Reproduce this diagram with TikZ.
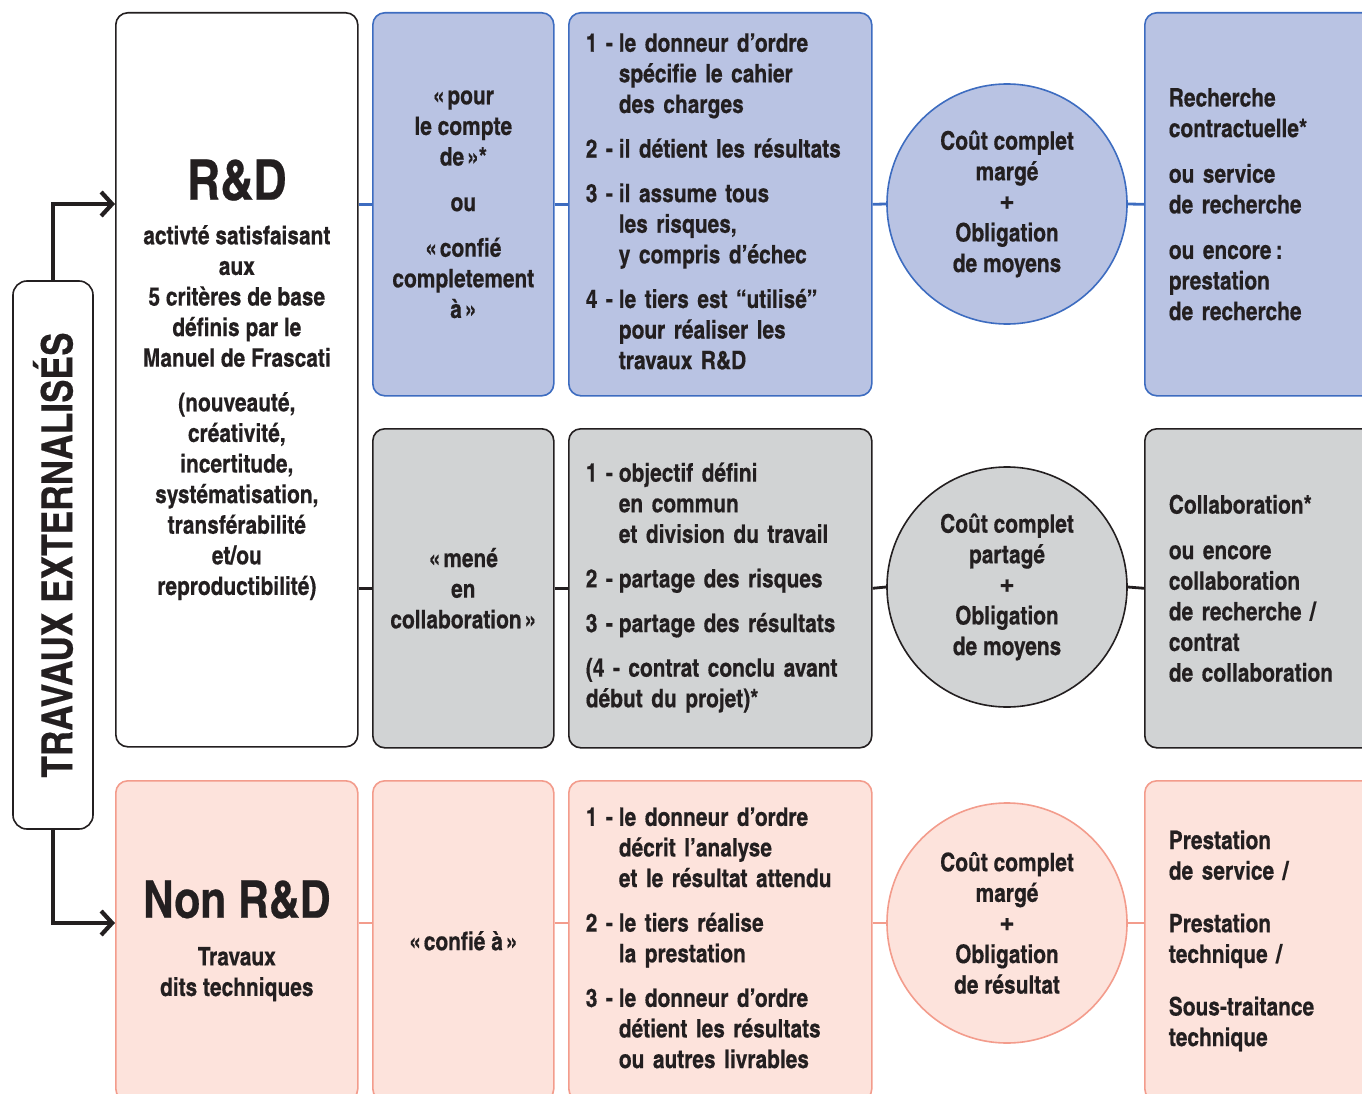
\documentclass[tikz,border=0pt]{standalone}
\usepackage{fontspec}
\setmainfont{TeX Gyre Heros Cn}[BoldFeatures={FakeBold=0.4}]
\usetikzlibrary{arrows.meta}
\definecolor{ink}{HTML}{231F20}
\definecolor{rdfill}{HTML}{B9C3E3}
\definecolor{rdline}{HTML}{3D6CC0}
\definecolor{cofill}{HTML}{D1D3D4}
\definecolor{nrdfill}{HTML}{FDE3DC}
\definecolor{nrdline}{HTML}{F39C8C}
\newcommand{\plusline}{{\fontsize{33}{30.6}\selectfont +}}
\newcommand{\og}{«\kern3pt}
\newcommand{\fg}{\kern3pt»}
\tikzset{
  txt/.style={font=\fontsize{25.5}{30.6}\selectfont\bfseries, text=ink},
  box/.style={txt, rectangle, rounded corners=12pt, line width=1.6pt, inner sep=0pt, anchor=north west, align=center},
  lbox/.style={box, align=left, inner xsep=#1},
  bluebox/.style={draw=rdline, fill=rdfill},
  greybox/.style={draw=ink, fill=cofill},
  pinkbox/.style={draw=nrdline, fill=nrdfill},
  cost/.style={txt, circle, line width=1.6pt, minimum size=240, inner sep=0pt, align=center},
  link/.style={line width=2.8pt},
  branch/.style={line width=4.2pt, draw=ink, -{Straight Barb[length=11pt, width=24pt]}}
}
\begin{document}
\begin{tikzpicture}[x=1pt, y=-1pt]
\useasboundingbox (0,0) rectangle (1362,1094);
\clip (0,0) rectangle (1362,1094);

\node (trav) [txt, rectangle, rounded corners=14pt, draw=ink, line width=1.6pt, rotate=90, minimum width=548, minimum height=80, inner sep=0pt, font=\fontsize{43}{43}\selectfont\bfseries] at (53,555) {TRAVAUX EXTERNALISÉS};

\node (rd) [box, draw=ink, fill=white, minimum width=242, minimum height=734] at (115,12) {{\fontsize{56}{56}\selectfont R\&D}\\[14pt]
  activté satisfaisant\\aux\\5 critères de base\\définis par le\\Manuel de Frascati\\[14pt]
  (nouveauté,\\créativité,\\incertitude,\\systématisation,\\transférabilité\\et/ou\\reproductibilité)};
\node (nrd) [box, pinkbox, minimum width=242, minimum height=320] at (115,780) {{\fontsize{52}{52}\selectfont Non R\&D}\\[17pt]Travaux\\dits techniques};

% recherche contractuelle
\node (b2) [box, bluebox, minimum width=181, minimum height=383] at (372,12) {\og pour\\le compte\\de\fg*\\[15pt]ou\\[15pt]\og confié\\completement\\à\fg};
\node (b3) [lbox=17pt, bluebox, text width=269pt, minimum height=383] at (568,12) {\begin{tabular}{@{}p{33pt}@{}l@{}}
  1 - & le donneur d’ordre\\ & spécifie le cahier\\ & des charges\\[14pt]
  2 - & il détient les résultats\\[14pt]
  3 - & il assume tous\\ & les risques,\\ & y compris d’échec\\[14pt]
  4 - & le tiers est “utilisé”\\ & pour réaliser les\\ & travaux R\&D
  \end{tabular}};
\node (bc) [cost, draw=rdline, fill=rdfill] at (1007,204) {Coût complet\\margé\\\plusline\\Obligation\\de moyens};
\node (b5) [lbox=24pt, bluebox, text width=240pt, minimum height=383] at (1144,12) {Recherche\\contractuelle*\\[15pt]ou service\\de recherche\\[15pt]ou encore\,:\\prestation\\de recherche};

% collaboration
\node (g2) [box, greybox, minimum width=181, minimum height=319] at (372,428) {\og mené\\en\\collaboration\fg};
\node (g3) [lbox=17pt, greybox, text width=269pt, minimum height=319] at (568,428) {\begin{tabular}{@{}p{33pt}@{}l@{}}
  1 - & objectif défini\\ & en commun\\ & et division du travail\\[14pt]
  2 - & partage des risques\\[14pt]
  3 - & partage des résultats\\[14pt]
  \multicolumn{2}{@{}l@{}}{(4 - contrat conclu avant}\\
  \multicolumn{2}{@{}l@{}}{début du projet)*}
  \end{tabular}};
\node (gc) [cost, draw=ink, fill=cofill] at (1007,587) {Coût complet\\partagé\\\plusline\\Obligation\\de moyens};
\node (g5) [lbox=24pt, greybox, text width=240pt, minimum height=319] at (1144,428) {Collaboration*\\[15pt]ou encore\\collaboration\\de recherche /\\contrat\\de collaboration};

% prestation technique
\node (p2) [box, pinkbox, minimum width=181, minimum height=320] at (372,780) {\og confié à\fg};
\node (p3) [lbox=17pt, pinkbox, text width=269pt, minimum height=320] at (568,780) {\begin{tabular}{@{}p{33pt}@{}l@{}}
  1 - & le donneur d’ordre\\ & décrit l’analyse\\ & et le résultat attendu\\[14pt]
  2 - & le tiers réalise\\ & la prestation\\[14pt]
  3 - & le donneur d’ordre\\ & détient les résultats\\ & ou autres livrables
  \end{tabular}};
\node (pc) [cost, draw=nrdline, fill=nrdfill] at (1007,923) {Coût complet\\margé\\\plusline\\Obligation\\de résultat};
\node (p5) [lbox=24pt, pinkbox, text width=240pt, minimum height=320] at (1144,780) {Prestation\\de service /\\[22pt]Prestation\\technique /\\[22pt]Sous-traitance\\technique};

\draw [link, rdline] (b2.west -| rd.east) -- (b2.west);
\draw [link, rdline] (b2.east) -- (b3.west);
\draw [link, rdline] (b3.east) -- (bc.west);
\draw [link, rdline] (bc.east) -- (b5.west);

\draw [link, ink] (g2.west -| rd.east) -- (g2.west);
\draw [link, ink] (g2.east) -- (g3.west);
\draw [link, ink] (g3.east) -- (gc.west);
\draw [link, ink] (gc.east) -- (g5.west);

\draw [link, nrdline] (nrd.east |- pc.center) -- (p2.west |- pc.center);
\draw [link, nrdline] (p2.east |- pc.center) -- (p3.west |- pc.center);
\draw [link, nrdline] (p3.east |- pc.center) -- (pc.west);
\draw [link, nrdline] (pc.east) -- (p5.west |- pc.center);

\draw [branch] (trav.east) |- (rd.west |- bc.center);
\draw [branch] (trav.west) |- (nrd.west |- pc.center);
\end{tikzpicture}
\end{document}
